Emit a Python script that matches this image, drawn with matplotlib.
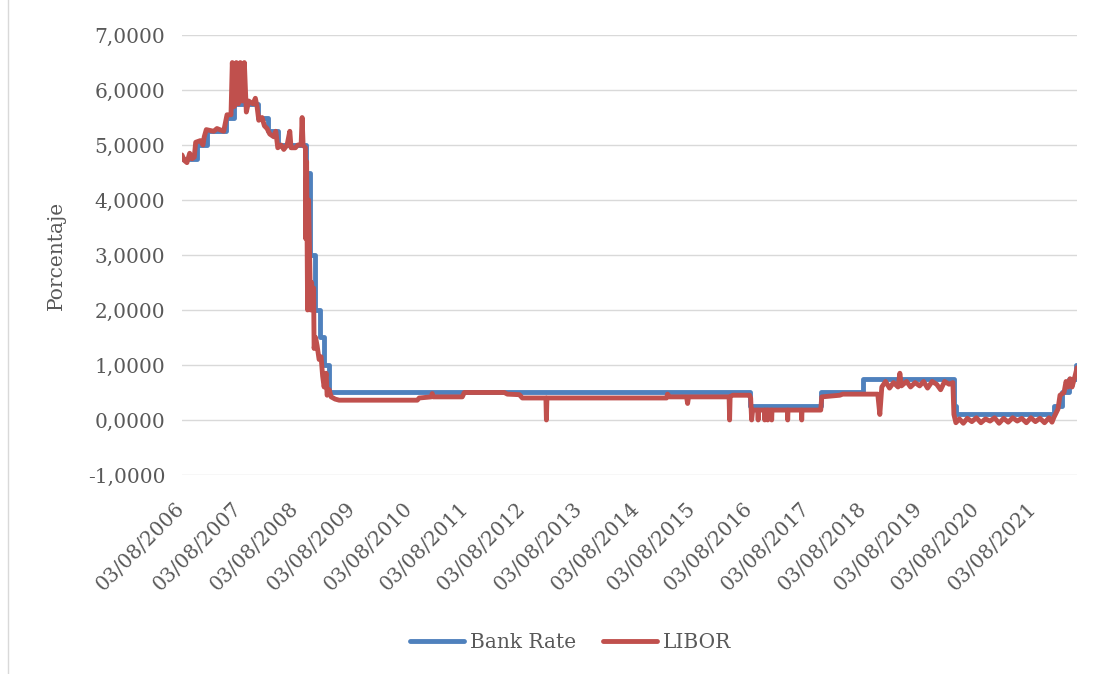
# -*- coding: utf-8 -*-
"""
Bank Rate vs LIBOR (2006 - 2022)
"""

#importacion de librerias
import numpy as np
import matplotlib
matplotlib.use("Agg")
import matplotlib.pyplot as plt
from matplotlib.lines import Line2D

######################################################
#Datos: fechas en años decimales, tasas en porcentaje
#Bank Rate (cambios de tasa del Banco de Inglaterra)
bank_anio = [2006.586, 2006.858, 2007.027, 2007.356, 2007.510, 2007.929,
             2008.101, 2008.274, 2008.770, 2008.849, 2008.926, 2009.019,
             2009.096, 2009.173, 2016.590, 2017.836, 2018.586, 2020.192,
             2020.214, 2021.956, 2022.090, 2022.205, 2022.342, 2022.353]
bank_tasa = [4.75, 5.00, 5.25, 5.50, 5.75, 5.50,
             5.25, 5.00, 4.50, 3.00, 2.00, 1.50,
             1.00, 0.50, 0.25, 0.50, 0.75, 0.25,
             0.10, 0.25, 0.50, 0.75, 1.00, 1.00]

#LIBOR
libor_anio = [2006.586, 2006.627, 2006.674, 2006.722, 2006.762, 2006.803,
              2006.828, 2006.909, 2006.956, 2006.979, 2007.015, 2007.145,
              2007.203, 2007.321, 2007.380, 2007.450, 2007.473, 2007.508,
              2007.544, 2007.579, 2007.614, 2007.649, 2007.685, 2007.720,
              2007.762, 2007.838, 2007.879, 2007.909, 2007.939, 2007.997,
              2008.038, 2008.085, 2008.133, 2008.203, 2008.239, 2008.274,
              2008.332, 2008.380, 2008.438, 2008.486, 2008.508, 2008.584,
              2008.627, 2008.685, 2008.703, 2008.720, 2008.761,
              2008.764, 2008.782, 2008.799, 2008.817, 2008.835, 2008.852,
              2008.870, 2008.888, 2008.905, 2008.914, 2008.940, 2008.967,
              2009.002, 2009.037, 2009.064, 2009.090, 2009.126, 2009.143,
              2009.179, 2009.214, 2009.284, 2009.355, 2010.731, 2010.766,
              2010.978, 2010.995, 2011.013, 2011.524, 2011.560, 2012.265,
              2012.318, 2012.530, 2012.582, 2012.997, 2013.006, 2013.015,
              2015.122, 2015.140, 2015.175, 2015.475, 2015.493, 2015.510,
              2016.224, 2016.233, 2016.242, 2016.286, 2016.586, 2016.604,
              2016.621, 2016.639, 2016.727, 2016.736, 2016.745, 2016.845,
              2016.851, 2016.857, 2016.897, 2016.903, 2016.909, 2016.968,
              2016.974, 2016.980, 2017.250, 2017.256, 2017.262, 2017.497,
              2017.503, 2017.509, 2017.838, 2017.856, 2018.173, 2018.226,
              2018.843, 2018.879, 2018.914, 2018.980, 2019.050, 2019.120,
              2019.200, 2019.232, 2019.260, 2019.350, 2019.420, 2019.500,
              2019.580, 2019.650, 2019.720, 2019.800, 2019.880, 2019.950,
              2020.020, 2020.100, 2020.166, 2020.184, 2020.219, 2020.280,
              2020.350, 2020.420, 2020.500, 2020.580, 2020.660, 2020.740,
              2020.820, 2020.900, 2020.980, 2021.060, 2021.140, 2021.220,
              2021.300, 2021.380, 2021.460, 2021.540, 2021.620, 2021.700,
              2021.780, 2021.860, 2021.912, 2021.947, 2022.018, 2022.053,
              2022.124, 2022.159, 2022.194, 2022.230, 2022.265, 2022.318,
              2022.353]
libor_tasa = [4.82, 4.72, 4.68, 4.85, 4.75, 4.78,
              5.05, 5.08, 5.00, 5.15, 5.28, 5.25,
              5.30, 5.25, 5.55, 5.55, 6.50, 5.70,
              6.50, 5.75, 6.50, 5.80, 6.50, 5.60,
              5.80, 5.75, 5.85, 5.70, 5.45, 5.50,
              5.35, 5.30, 5.20, 5.15, 5.25, 4.95,
              5.00, 4.92, 5.00, 5.25, 4.95, 4.95,
              5.00, 5.00, 5.50, 5.00, 4.95,
              3.30, 4.70, 2.00, 4.00, 3.00, 2.00,
              2.50, 2.05, 2.40, 1.30, 1.50, 1.35,
              1.10, 1.15, 0.80, 0.60, 0.85, 0.45,
              0.55, 0.42, 0.38, 0.36, 0.36, 0.40,
              0.42, 0.48, 0.42, 0.42, 0.50, 0.50,
              0.47, 0.46, 0.40, 0.40, 0.00, 0.40,
              0.40, 0.47, 0.42, 0.42, 0.30, 0.42,
              0.42, 0.00, 0.42, 0.45, 0.45, 0.40,
              0.00, 0.18, 0.18, 0.00, 0.18, 0.18,
              0.00, 0.18, 0.18, 0.00, 0.18, 0.18,
              0.00, 0.18, 0.18, 0.00, 0.18, 0.18,
              0.00, 0.18, 0.18, 0.42, 0.45, 0.47,
              0.47, 0.10, 0.60, 0.70, 0.58, 0.68,
              0.60, 0.85, 0.62, 0.70, 0.60, 0.68,
              0.62, 0.70, 0.58, 0.70, 0.65, 0.55,
              0.70, 0.65, 0.68, 0.10, -0.05, 0.02,
              -0.06, 0.03, -0.03, 0.04, -0.05, 0.02,
              -0.02, 0.04, -0.06, 0.03, -0.04, 0.04,
              -0.02, 0.03, -0.05, 0.04, -0.03, 0.03,
              -0.05, 0.04, -0.04, 0.05, 0.20, 0.45,
              0.50, 0.70, 0.60, 0.75, 0.60, 0.80,
              0.95]

#Etiquetas del eje x (03/08 de cada año)
anios_eje = list(range(2006, 2022))
pos_eje = [a + 0.586 for a in anios_eje]
etiquetas_eje = ["03/08/%d" % a for a in anios_eje]

######################################################
#Estilo
azul = "#4F81BD"
rojo = "#C0504D"
gris_txt = "#595959"
gris_lin = "#D9D9D9"
grosor = 3.5
plt.rcParams['font.family'] = ['DejaVu Serif']

fig = plt.figure(figsize=(11.19, 6.74), dpi=100)
ax = fig.add_axes([0.1626, 0.2953, 0.7999, 0.6527])

#Graficas
ax.step(bank_anio, bank_tasa, where='post', color=azul, lw=grosor,
        solid_joinstyle='round', solid_capstyle='round', zorder=3)
ax.plot(libor_anio, libor_tasa, color=rojo, lw=grosor,
        solid_joinstyle='round', solid_capstyle='round', zorder=4)

ax.set_xlim(2006.586, 2022.353)
ax.set_ylim(-1, 7)
ax.set_yticks(np.arange(-1, 8, 1))
ax.set_yticklabels([("%.4f" % v).replace('.', ',') for v in np.arange(-1, 8, 1)])
ax.set_xticks(pos_eje)
ax.set_xticklabels(etiquetas_eje, rotation=45, ha='right', va='center',
                   rotation_mode='anchor')

ax.grid(axis='y', color=gris_lin, lw=1.0, zorder=0)
ax.set_axisbelow(True)
for s in ax.spines.values():
    s.set_visible(False)
ax.tick_params(axis='both', length=0, labelsize=14.5, labelcolor=gris_txt)
ax.tick_params(axis='y', pad=12)
ax.tick_params(axis='x', pad=22)

ax.set_ylabel('Porcentaje', fontsize=14.5, color=gris_txt, labelpad=16)

#Leyenda
handles = [Line2D([0], [0], color=azul, lw=grosor, solid_capstyle='round'),
           Line2D([0], [0], color=rojo, lw=grosor, solid_capstyle='round')]
leg = ax.legend(handles, ['Bank Rate', 'LIBOR'], loc='center', ncol=2,
                bbox_to_anchor=(0.510, 0.047), bbox_transform=fig.transFigure,
                frameon=False, fontsize=14.5, handlelength=2.7,
                handletextpad=0.3, columnspacing=1.3)
for t in leg.get_texts():
    t.set_color(gris_txt)

#Borde del area del grafico
fig.add_artist(Line2D([8 / 1119, 8 / 1119], [0, 1], transform=fig.transFigure,
                      color=gris_lin, lw=1.0))

fig.savefig('out.png', dpi=100)
